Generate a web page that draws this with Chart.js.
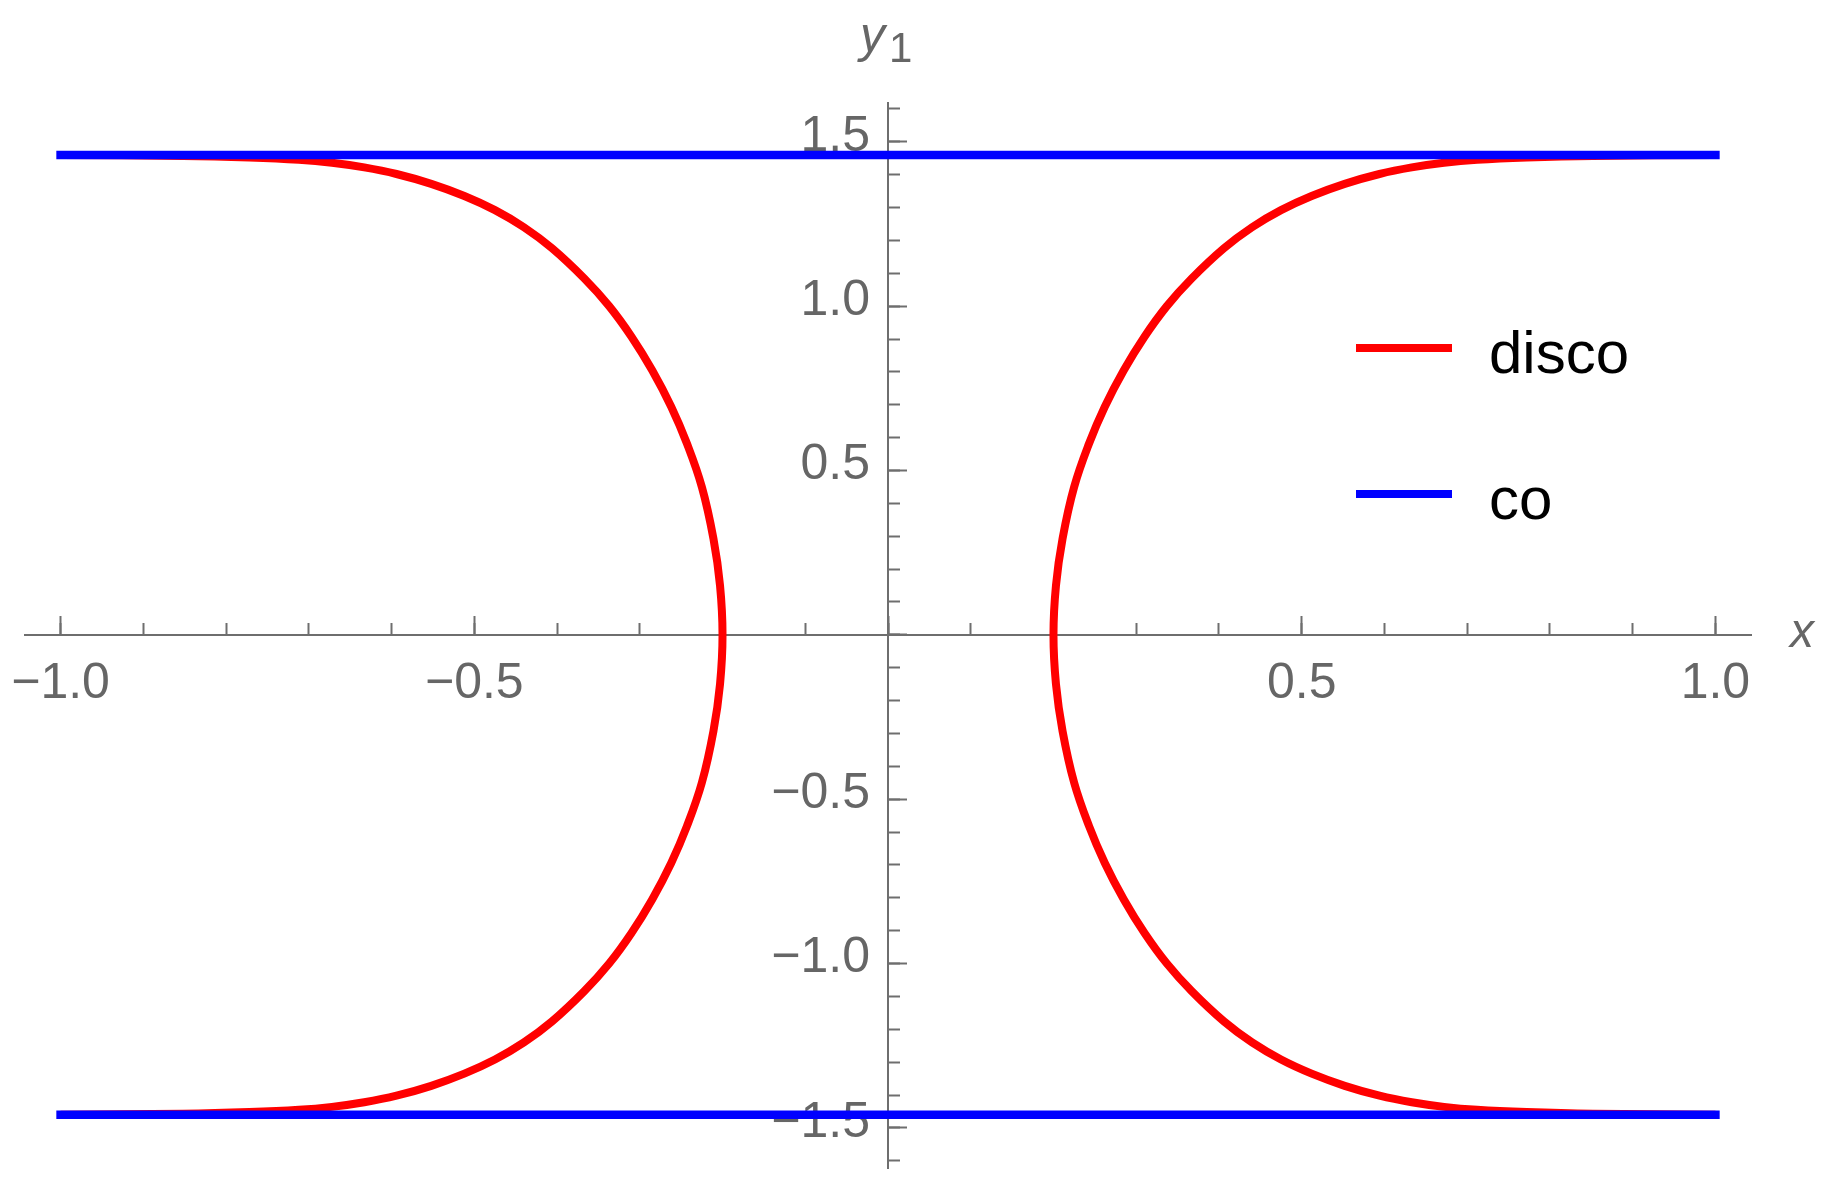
<!DOCTYPE html>
<html>
<head>
<meta charset="utf-8">
<script src="https://cdn.jsdelivr.net/npm/chart.js@4.4.1/dist/chart.umd.min.js"></script>
<style>
  body { margin: 0; background: #fff; }
  #wrap { width: 1831px; height: 1180px; }
</style>
</head>
<body>
<div id="wrap"><canvas id="chart"></canvas></div>
<script>
// right branch of "disco" (bottom -> top)
var discoRightX = [1.000, 0.852, 0.772, 0.712, 0.672, 0.633, 0.594, 0.552, 0.512, 0.475, 0.440, 0.406, 0.367, 0.337, 0.310, 0.285, 0.262, 0.243, 0.225, 0.211, 0.203, 0.200,
                   0.203, 0.211, 0.225, 0.243, 0.262, 0.285, 0.310, 0.337, 0.367, 0.406, 0.440, 0.475, 0.512, 0.552, 0.594, 0.633, 0.672, 0.712, 0.772, 0.852, 1.000];
var discoRightY = [-1.460, -1.457, -1.452, -1.445, -1.436, -1.422, -1.402, -1.372, -1.335, -1.292, -1.240, -1.176, -1.084, -1.000, -0.907, -0.805, -0.694, -0.582, -0.450, -0.293, -0.150, 0.000,
                   0.150, 0.293, 0.450, 0.582, 0.694, 0.805, 0.907, 1.000, 1.084, 1.176, 1.240, 1.292, 1.335, 1.372, 1.402, 1.422, 1.436, 1.445, 1.452, 1.457, 1.460];
// left branch
var discoLeftX = [-1.000, -0.852, -0.772, -0.712, -0.672, -0.633, -0.594, -0.552, -0.512, -0.475, -0.440, -0.406, -0.367, -0.337, -0.310, -0.285, -0.262, -0.243, -0.225, -0.211, -0.203, -0.200,
                  -0.203, -0.211, -0.225, -0.243, -0.262, -0.285, -0.310, -0.337, -0.367, -0.406, -0.440, -0.475, -0.512, -0.552, -0.594, -0.633, -0.672, -0.712, -0.772, -0.852, -1.000];
var discoLeftY = [-1.460, -1.457, -1.452, -1.445, -1.436, -1.422, -1.402, -1.372, -1.335, -1.292, -1.240, -1.176, -1.084, -1.000, -0.907, -0.805, -0.694, -0.582, -0.450, -0.293, -0.150, 0.000,
                  0.150, 0.293, 0.450, 0.582, 0.694, 0.805, 0.907, 1.000, 1.084, 1.176, 1.240, 1.292, 1.335, 1.372, 1.402, 1.422, 1.436, 1.445, 1.452, 1.457, 1.460];
// "co": two flat lines
var coX = [-1.0, 1.0];
var coTopY = [1.46, 1.46];
var coBottomY = [-1.46, -1.46];

// tick positions
var xMajorTicks = [-1.0, -0.5, 0.0, 0.5, 1.0];
var xMinorTicks = [-1.0, -0.9, -0.8, -0.7, -0.6, -0.5, -0.4, -0.3, -0.2, -0.1, 0.0, 0.1, 0.2, 0.3, 0.4, 0.5, 0.6, 0.7, 0.8, 0.9, 1.0];
var yMajorTicks = [-1.5, -1.0, -0.5, 0.0, 0.5, 1.0, 1.5];
var yMinorTicks = [-1.6, -1.5, -1.4, -1.3, -1.2, -1.1, -1.0, -0.9, -0.8, -0.7, -0.6, -0.5, -0.4, -0.3, -0.2, -0.1, 0.0,
                   0.1, 0.2, 0.3, 0.4, 0.5, 0.6, 0.7, 0.8, 0.9, 1.0, 1.1, 1.2, 1.3, 1.4, 1.5, 1.6];

var xMin = -1.043, xMax = 1.043;
var yMin = -1.622, yMax = 1.618;

var axisGray = '#6e6e6e';
var labelGray = '#666666';
var fontFam = '"Liberation Sans", Arial, sans-serif';

function pts(xs, ys) {
  var out = [];
  for (var i = 0; i < xs.length; i++) out.push({x: xs[i], y: ys[i]});
  return out;
}
var gap = {x: null, y: null};
var discoData = pts(discoRightX, discoRightY).concat([gap], pts(discoLeftX, discoLeftY));
var coData = pts(coX, coTopY).concat([gap], pts(coX, coBottomY));

function fmt(v) {
  if (Math.abs(v) < 1e-9) return '';
  return v.toFixed(1).replace('-', '\u2212');
}
function setTicks(list) {
  return function(axis) {
    axis.ticks = list.map(function(v) { return {value: v}; });
  };
}

// legend drawn inside the plot
var insideLegend = {
  id: 'insideLegend',
  afterDatasetsDraw: function(chart) {
    var ctx = chart.ctx;
    var rows = [348, 494];
    ctx.save();
    chart.data.datasets.forEach(function(ds, i) {
      var y = rows[i];
      ctx.strokeStyle = ds.borderColor;
      ctx.lineWidth = 8;
      ctx.beginPath();
      ctx.moveTo(1356, y);
      ctx.lineTo(1452, y);
      ctx.stroke();
      ctx.fillStyle = '#000';
      ctx.font = '60px ' + fontFam;
      ctx.textBaseline = 'alphabetic';
      ctx.textAlign = 'left';
      ctx.fillText(ds.label, 1489, y + 25);
    });
    ctx.restore();
  }
};

// axis names x and y1
var axisNames = {
  id: 'axisNames',
  afterDraw: function(chart) {
    var ctx = chart.ctx, sx = chart.scales.x, sy = chart.scales.y;
    var ox = sx.getPixelForValue(0), oy = sy.getPixelForValue(0);
    ctx.save();
    ctx.fillStyle = labelGray;
    ctx.textBaseline = 'alphabetic';
    ctx.textAlign = 'left';
    ctx.font = 'italic 48px ' + fontFam;
    ctx.fillText('x', sx.right + 39, oy + 12);
    ctx.font = 'italic 50px ' + fontFam;
    ctx.fillText('y', ox - 28, 52);
    ctx.font = '42px ' + fontFam;
    ctx.fillText('1', ox + 1, 62);
    ctx.restore();
  }
};

new Chart(document.getElementById('chart'), {
  type: 'scatter',
  data: {
    datasets: [
      {label: 'disco', data: discoData, showLine: true, borderColor: '#ff0000', borderWidth: 8,
       pointRadius: 0, tension: 0.4, order: 1, spanGaps: false},
      {label: 'co', data: coData, showLine: true, borderColor: '#0000ff', borderWidth: 8.5,
       pointRadius: 0, tension: 0, order: 0, spanGaps: false, borderCapStyle: 'square'}
    ]
  },
  options: {
    responsive: true,
    maintainAspectRatio: false,
    devicePixelRatio: 1,
    animation: false,
    events: [],
    layout: {padding: {left: 25, right: 80, top: 103, bottom: 12}},
    plugins: {legend: {display: false}, tooltip: {enabled: false}},
    scales: {
      x: {
        type: 'linear', position: {y: 0}, min: xMin, max: xMax, bounds: 'data',
        afterBuildTicks: setTicks(xMajorTicks),
        border: {color: axisGray, width: 2},
        grid: {drawOnChartArea: false, tickLength: -20, tickWidth: 2, tickColor: axisGray},
        ticks: {autoSkip: false, maxRotation: 0, padding: 0,
                color: labelGray, font: {family: fontFam, size: 50, lineHeight: 2.76}, callback: fmt}
      },
      xMinor: {
        type: 'linear', axis: 'x', position: {y: 0}, min: xMin, max: xMax, bounds: 'data',
        afterBuildTicks: setTicks(xMinorTicks),
        border: {display: false},
        grid: {drawOnChartArea: false, tickLength: -12, tickWidth: 2, tickColor: axisGray},
        ticks: {display: false, autoSkip: false}
      },
      y: {
        type: 'linear', position: {x: 0}, min: yMin, max: yMax, bounds: 'data',
        afterBuildTicks: setTicks(yMajorTicks),
        border: {color: axisGray, width: 2},
        grid: {drawOnChartArea: false, tickLength: -20, tickWidth: 2, tickColor: axisGray},
        ticks: {autoSkip: false, padding: 0, labelOffset: -5,
                color: labelGray, font: {family: fontFam, size: 50, lineHeight: 0.4},
                callback: function(v) { var s = fmt(v); return s ? s + ' \u200A' : s; }}
      },
      yMinor: {
        type: 'linear', axis: 'y', position: {x: 0}, min: yMin, max: yMax, bounds: 'data',
        afterBuildTicks: setTicks(yMinorTicks),
        border: {display: false},
        grid: {drawOnChartArea: false, tickLength: -12, tickWidth: 2, tickColor: axisGray},
        ticks: {display: false, autoSkip: false}
      }
    }
  },
  plugins: [insideLegend, axisNames]
});
</script>
</body>
</html>
